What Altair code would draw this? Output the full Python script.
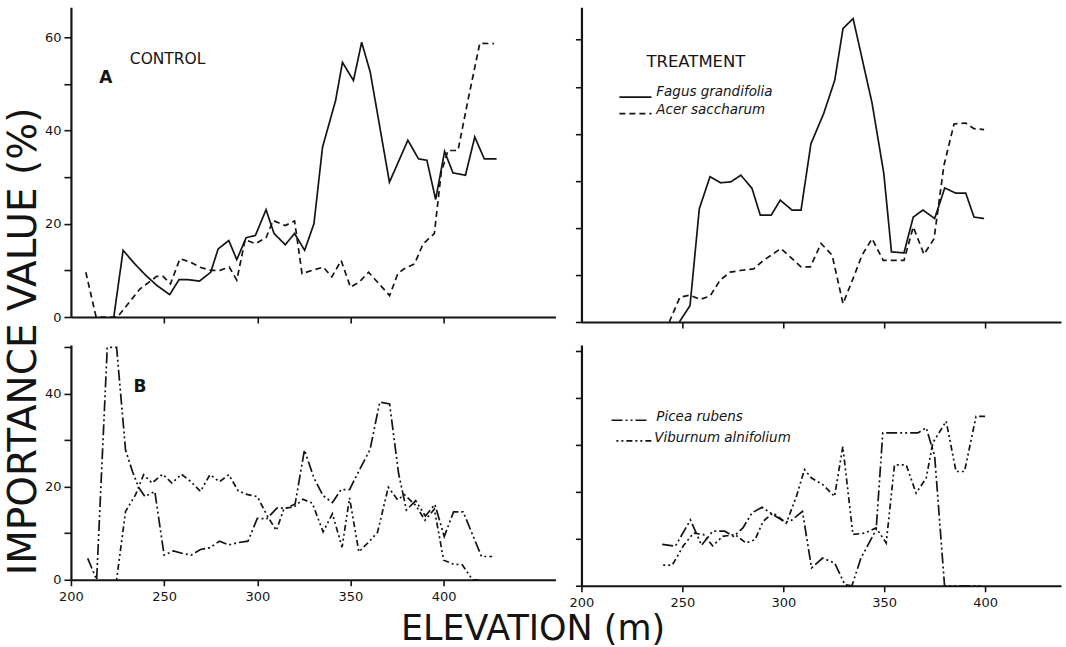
import altair as alt
import pandas as pd

# ---------------- data ----------------
# A - Control
tl_fagus_x = [223, 228, 234, 240, 246, 253, 258, 263, 269, 275, 279, 284.7, 289, 294, 299, 304.7, 309, 315, 320,
              325.4, 330.4, 335, 342, 345.7, 351.6, 356, 360.6, 370.9, 380.8, 386.5, 391, 395.7, 400.5, 405, 411.7,
              416.7, 421.8, 428.4]
tl_fagus_y = [0, 14.3, 11.5, 9, 6.8, 4.8, 8, 8, 7.7, 9.6, 14.6, 16.4, 12.3, 17, 17.5, 23, 17.9, 15.5, 17.9,
              14.3, 20, 36.4, 46.4, 54.6, 50.7, 58.9, 52.5, 28.9, 37.9, 33.9, 33.6, 25.2, 35.5, 30.9, 30.4,
              38.6, 33.9, 33.9]
tl_acer_x = [208, 213.5, 225, 237, 246, 249.5, 253.4, 258.5, 264, 269, 275, 280, 285, 289, 293.5, 299, 304.7, 308.5,
             315, 320, 324, 329.5, 335.4, 340, 345, 350, 354.7, 359.7, 371, 375.4, 379, 384.4, 389, 395, 398.7,
             402.3, 407.7, 413, 419.4, 427]
tl_acer_y = [9.6, 0, 0, 6, 8.7, 8.7, 7.1, 12.5, 11.8, 10.7, 10, 10, 10.7, 7.9, 16.6, 15.7, 17, 20.7,
             19.6, 20.6, 9.3, 10, 10.7, 8.6, 12.1, 6.4, 7.5, 9.6, 4.6, 9.3, 10.4, 11.4, 15.7, 17.9, 31,
             35.7, 35.7, 46.4, 58.7, 58.6]

# A - Treatment
tr_fagus_x = [248.5, 253.8, 258.4, 263.7, 269, 274, 279, 284.5, 288.6, 294, 298.5, 304.3, 308.8, 313.7, 320, 325.5,
              329.6, 334.6, 344, 349.8, 353.6, 359.8, 364.4, 369.2, 375, 380, 385.4, 390.4, 394.5, 399.5]
tr_fagus_y = [0, 3.5, 24.1, 30.9, 29.6, 29.8, 31.2, 28.4, 22.7, 22.7, 25.9, 23.8, 23.8, 37.9, 44.3, 51.4,
              62.4, 64.5, 46.5, 31.6, 14.9, 14.7, 22.3, 23.8, 22, 28.5, 27.4, 27.4, 22.3, 22]
tr_acer_x = [243.5, 248.8, 253.8, 258.8, 263.7, 268.7, 273.7, 279.5, 285.3, 290.2, 298.8, 303.5, 308.8, 313.4, 318.7,
             324.2, 329.6, 334.9, 339, 344, 349.5, 359.8, 364.4, 369.7, 374.7, 379.6, 384.6, 390.4, 394.5, 399.5]
tr_acer_y = [0, 5.3, 5.7, 4.8, 5.5, 8.9, 10.6, 11, 11.3, 13.1, 15.6, 13.8, 11.7, 11.7, 16.7,
             14.2, 3.9, 9.6, 14.2, 17.7, 13.1, 13.1, 20.2, 14.4, 17.7, 33.3, 42.1, 42.3, 41.1, 40.9]

# B - Control
bl_picea_x = [209, 213.8, 219.5, 224.5, 229.3, 233, 236.3, 239.7, 245, 250, 255, 259.5, 264.5, 269.5, 274.6, 279.7,
              284.7, 290, 295, 300, 305, 310.5, 315.5, 320.3, 325.3, 330.4, 335.3, 340.3, 345, 349.5, 355.3, 360.5,
              365.7, 371, 375.8, 380, 385, 390.2, 395.3, 400.3, 405.3, 410.5, 420.3, 426]
bl_picea_y = [4.6, 0, 50, 50, 27.9, 23.3, 19.9, 17.9, 19, 5.3, 6.2, 5.7, 5.3, 6.5, 6.9, 8.3,
              7.5, 8, 8.3, 13.2, 13.1, 15.4, 15.4, 16.3, 27.9, 21.9, 18.1, 16.6, 19.4, 19.4, 24, 28,
              38.2, 37.8, 22.9, 15, 17, 13.7, 16.2, 9.3, 14.6, 14.6, 5, 5]
bl_vib_x = [224.5, 229.3, 234.7, 239, 243.5, 249.2, 254.2, 259.3, 264.4, 269.5, 274.6, 279.7, 284.7, 289.8, 294.9,
            300, 305, 310.2, 314.4, 319.5, 324.5, 329.5, 335.3, 340.3, 345.5, 349.5, 354.5, 359.5, 364.5, 370.3,
            375.3, 379, 385, 390, 395, 400, 405, 410, 415.5, 420]
bl_vib_y = [0, 14.7, 18.3, 22.6, 20.8, 22.7, 20.8, 22.7, 21.1, 19, 22.6, 21.1, 22.6, 19.1, 18.3,
            17.9, 14, 10.6, 15.4, 15.6, 17.3, 16.5, 10.3, 14.2, 7, 17.6, 6, 8, 10.2, 19.9,
            17.2, 18.3, 16, 12.8, 15.2, 4.2, 3.4, 3.2, 0, 0]

# B - Treatment
br_picea_x = [240, 246.5, 254, 259.5, 265, 271, 275.5, 280, 284.5, 289.5, 295, 301, 304, 309.5, 314, 319.5, 325.5,
              330.5, 334, 338.5, 346, 349.3, 366.7, 370.8, 375, 379.9, 398]
br_picea_y = [8.8, 8.4, 14, 8.6, 11.6, 11.6, 10.5, 12.3, 15.5, 16.7, 15.1, 13.5, 13.9, 15.8, 3.8, 5.9, 4.8,
              0.2, 0, 5.9, 11.9, 32.5, 32.5, 33.6, 27.6, 0, 0]
br_vib_x = [240.5, 245, 250.5, 255.5, 260.5, 265, 270, 276, 281.5, 286, 290, 295, 301.5, 306.5, 310.5, 314, 319.6,
            325.4, 329.5, 334.5, 340.3, 346, 351, 355.1, 360.9, 365.8, 370.8, 374.1, 380.7, 385.6, 389.8, 395.5, 401]
br_vib_y = [4.4, 4.4, 8.5, 11.2, 10.9, 8.5, 10.5, 10.9, 9.1, 9.8, 13.7, 15.5, 13.3, 19, 24.7, 22.9, 21.5,
            19, 29.6, 10.9, 11.2, 12.3, 9.1, 25.7, 25.7, 19.7, 22.9, 30.4, 35, 24.3, 24.3, 36, 36]

species = ["Fagus grandifolia", "Acer saccharum", "Picea rubens", "Viburnum alnifolium"]
dashes = [[1, 0], [6, 4], [11, 3, 2, 3, 2, 3], [2, 3, 2, 3, 6, 3]]

y_ticks_top = [0, 10, 20, 30, 40, 50, 60]
y_ticks_bot = [0, 10, 20, 30, 40, 50]
x_ticks = [200, 250, 300, 350, 400]
x_ticks_top = [250, 300, 350, 400]

# ---------------- styling ----------------
FONT = "DejaVu Sans"
INK = "#141414"
dash_scale = alt.Scale(domain=species, range=dashes)


def series(xs, ys, name):
    return pd.DataFrame({"elev": xs, "iv": ys, "species": name})


def base_axis(**kw):
    opts = dict(grid=False, domainColor=INK, domainWidth=2.2, tickColor=INK, tickWidth=1.6,
                tickSize=6, labelFont=FONT, labelFontSize=13, labelColor=INK, labelFlush=False,
                title=None)
    opts.update(kw)
    return alt.Axis(**opts)


def panel(frames, xdom, ydom, w, h, xaxis, yaxis, legend=None, texts=()):
    xs = alt.Scale(domain=xdom, nice=False, zero=False)
    ys = alt.Scale(domain=ydom, nice=False, zero=False)
    df = pd.concat(frames, ignore_index=True)
    layers = [
        alt.Chart(df).mark_line(color=INK, strokeWidth=1.7, strokeJoin="miter").encode(
            x=alt.X("elev:Q", scale=xs, axis=xaxis),
            y=alt.Y("iv:Q", scale=ys, axis=yaxis),
            strokeDash=alt.StrokeDash("species:N", scale=dash_scale, legend=None),
        )
    ]
    if legend is not None:
        ldf = pd.DataFrame(legend)
        layers.append(
            alt.Chart(ldf).mark_rule(color=INK, strokeWidth=1.6).encode(
                x=alt.X("x1:Q", scale=xs, axis=xaxis),
                x2="x2:Q",
                y=alt.Y("y:Q", scale=ys, axis=yaxis),
                strokeDash=alt.StrokeDash("species:N", scale=dash_scale, legend=None),
            )
        )
        layers.append(
            alt.Chart(ldf).mark_text(align="left", baseline="middle", font=FONT, fontSize=13.5,
                                     fontStyle="italic", color=INK).encode(
                x=alt.X("tx:Q", scale=xs, axis=xaxis),
                y=alt.Y("ty:Q", scale=ys, axis=yaxis),
                text="species:N",
            )
        )
    for t in texts:
        tdf = pd.DataFrame({"label": [t["text"]], "tx": [t["x"]], "ty": [t["y"]]})
        layers.append(
            alt.Chart(tdf).mark_text(align=t.get("align", "left"), baseline="middle", font=FONT,
                                     fontSize=t["size"], fontWeight=t.get("weight", "normal"),
                                     color=INK).encode(
                x=alt.X("tx:Q", scale=xs, axis=xaxis),
                y=alt.Y("ty:Q", scale=ys, axis=yaxis),
                text="label:N",
            )
        )
    return alt.layer(*layers).properties(width=w, height=h)


label_every_20 = "datum.value % 20 === 0 ? datum.label : ''"

tl = panel(
    [series(tl_fagus_x, tl_fagus_y, species[0]), series(tl_acer_x, tl_acer_y, species[1])],
    [200, 460], [0, 66.4], 485, 310,
    base_axis(values=x_ticks_top, labels=False),
    base_axis(values=y_ticks_top, labelExpr=label_every_20, tickSize=7, labelPadding=3,
              title="IMPORTANCE VALUE (%)", titleAngle=270, titleX=-35, titleY=334,
              titleFont=FONT, titleFontSize=39, titleFontWeight="normal", titleColor=INK,
              titleAlign="center", titleBaseline="alphabetic"),
    texts=[
        {"text": "A", "x": 218.7, "y": 51.2, "size": 17, "weight": "bold", "align": "center"},
        {"text": "CONTROL", "x": 231.6, "y": 55.3, "size": 15.5},
    ],
)

tr = panel(
    [series(tr_fagus_x, tr_fagus_y, species[0]), series(tr_acer_x, tr_acer_y, species[1])],
    [200, 437.6], [0, 66.9], 480, 315,
    base_axis(values=x_ticks_top, labels=False),
    base_axis(values=y_ticks_top, labels=False),
    legend={"species": species[:2], "x1": [218.8, 218.8], "x2": [234.7, 234.7], "y": [47.8, 44.3],
            "tx": [237.1, 237.1], "ty": [48.9, 45.0]},
    texts=[{"text": "TREATMENT", "x": 232.2, "y": 55.2, "size": 16.5}],
)

bl = panel(
    [series(bl_picea_x, bl_picea_y, species[2]), series(bl_vib_x, bl_vib_y, species[3])],
    [200, 460], [0, 50.5], 485, 235,
    base_axis(values=x_ticks, labelPadding=5,
              title="ELEVATION (m)", titleX=462, titleY=60, titleFont=FONT, titleFontSize=35,
              titleFontWeight="normal", titleColor=INK, titleAlign="center",
              titleBaseline="alphabetic"),
    base_axis(values=y_ticks_bot, labelExpr=label_every_20, tickSize=7, labelPadding=3),
    texts=[{"text": "B", "x": 237, "y": 41.5, "size": 17, "weight": "bold", "align": "center"}],
)

br = panel(
    [series(br_picea_x, br_picea_y, species[2]), series(br_vib_x, br_vib_y, species[3])],
    [200, 437.6], [0, 51.2], 480, 241,
    base_axis(values=x_ticks, labelPadding=5),
    base_axis(values=y_ticks_bot, labels=False),
    legend={"species": species[2:], "x1": [214.9, 217.3], "x2": [233.7, 235.6], "y": [35.2, 30.8],
            "tx": [237.1, 236.1], "ty": [35.9, 31.4]},
)

chart = alt.concat(tl, tr, bl, br, columns=2, spacing={"row": 23, "column": 26}, bounds="flush").properties(
    padding={"left": 4, "top": 7, "right": 5, "bottom": 0},
    background="white",
).configure_view(stroke=None)

chart.save("out.html", embed_options={"renderer": "svg", "actions": False})
